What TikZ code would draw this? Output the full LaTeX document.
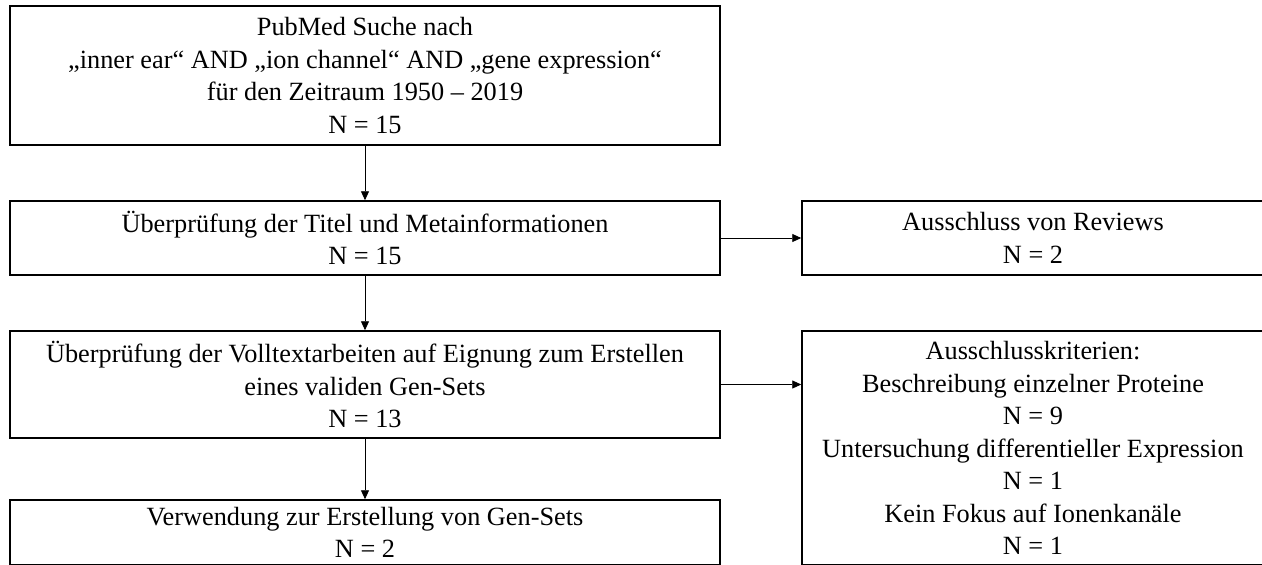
\documentclass[tikz,border=0pt]{standalone}
\usepackage{fontspec}
\setmainfont{Liberation Serif}
\usetikzlibrary{arrows.meta}
\begin{document}
\begin{tikzpicture}[x=1pt,y=-1pt,
  box/.style={draw=black, line width=1.5pt, inner sep=0pt, align=center,
    font=\fontsize{26.3}{32.5}\selectfont},
  conn/.style={line width=0.9pt, -{Triangle[length=9pt,width=8pt]}}]
\useasboundingbox (0,0) rectangle (1262,565);
\clip (0,0) rectangle (1262,565);
\node[box, minimum width=710pt, minimum height=139pt] (b1) at (365,75.5)
  {PubMed Suche nach\\„inner ear“ AND „ion channel“ AND „gene expression“\\für den Zeitraum 1950 – 2019\\N = 15};
\node[box, minimum width=710pt, minimum height=74pt] (b2) at (365,238)
  {Überprüfung der Titel und Metainformationen\\N = 15};
\node[box, minimum width=462pt, minimum height=74pt] (b3) at (1033,238)
  {Ausschluss von Reviews\\N = 2};
\node[box, minimum width=710pt, minimum height=107pt] (b4) at (365,384.5)
  {Überprüfung der Volltextarbeiten auf Eignung zum Erstellen\\eines validen Gen-Sets\\N = 13};
\node[box, minimum width=462pt, minimum height=234pt] (b5) at (1033,448)
  {Ausschlusskriterien:\\Beschreibung einzelner Proteine\\N = 9\\Untersuchung differentieller Expression\\N = 1\\Kein Fokus auf Ionenkanäle\\N = 1};
\node[box, minimum width=710pt, minimum height=65pt] (b6) at (365,532.5)
  {Verwendung zur Erstellung von Gen-Sets\\N = 2};
\draw[conn] (b1.south) -- (b2.north);
\draw[conn] (b2.south) -- (b4.north);
\draw[conn] (b4.south) -- (b6.north);
\draw[conn] (b2.east) -- (b3.west);
\draw[conn] (b4.east) -- (b4.east -| b5.west);
\end{tikzpicture}
\end{document}
